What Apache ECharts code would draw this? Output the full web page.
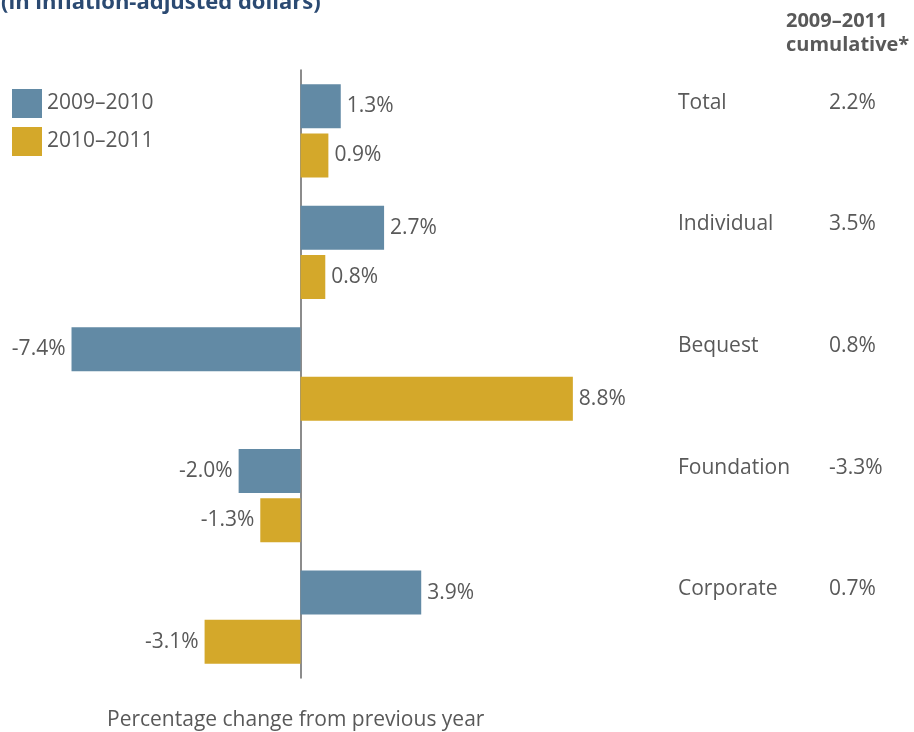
<!DOCTYPE html>
<html>
<head>
<meta charset="utf-8">
<script src="https://cdn.jsdelivr.net/npm/echarts@6/dist/echarts.min.js"></script>
<style>
  html, body { margin: 0; padding: 0; background: #fff; }
  #chart { width: 914px; height: 732px; }
</style>
</head>
<body>
<div id="chart"></div>
<script>
// Giving by source, percentage change (inflation-adjusted)
const categories = ['Total', 'Individual', 'Bequest', 'Foundation', 'Corporate'];
const change2009to2010 = [1.3, 2.7, -7.4, -2.0, 3.9];
const change2010to2011 = [0.9, 0.8, 8.8, -1.3, -3.1];
const cumulative2009to2011 = ['2.2%', '3.5%', '0.8%', '-3.3%', '0.7%'];
const seriesNames = ['2009–2010', '2010–2011'];

const TEXT = '#595959';
const FONT = 'Open Sans';
const FS = 21;

function barData(values) {
  return values.map(v => ({
    value: v,
    label: { position: v >= 0 ? 'right' : 'left' }
  }));
}

const labelStyle = {
  show: true,
  distance: 6,
  fontFamily: FONT,
  fontSize: FS,
  color: TEXT,
  formatter: p => p.value.toFixed(1) + '%'
};

const chart = echarts.init(document.getElementById('chart'));
chart.setOption({
  animation: false,
  backgroundColor: '#fff',
  title: [
    {
      text: '(in inflation-adjusted dollars)',
      left: -4, top: -13,
      textStyle: { fontFamily: FONT, fontSize: 22, fontWeight: 'bold', color: '#2b4a72', lineHeight: 22 }
    },
    {
      text: '2009–2011\ncumulative*',
      left: 781, top: 4,
      textStyle: { fontFamily: FONT, fontSize: 20, fontWeight: 'bold', color: TEXT, lineHeight: 24 }
    },
    {
      text: 'Percentage change from previous year',
      left: 102, top: 705,
      textStyle: { fontFamily: FONT, fontSize: FS, fontWeight: 'normal', color: TEXT }
    }
  ],
  legend: {
    orient: 'vertical',
    left: 7, top: 84,
    itemWidth: 30, itemHeight: 29, itemGap: 9,
    icon: 'rect',
    textStyle: { fontFamily: FONT, fontSize: FS, color: TEXT },
    data: seriesNames
  },
  grid: { left: 22, right: 304, top: 70, bottom: 54, containLabel: false },
  xAxis: {
    type: 'value',
    min: -9, max: 10,
    show: false
  },
  yAxis: [
    {
      type: 'category',
      data: categories,
      inverse: true,
      axisLine: { show: true, onZero: true, lineStyle: { color: '#666', width: 1.5 } },
      axisTick: { show: false },
      axisLabel: { show: false },
      splitLine: { show: false }
    },
    {
      type: 'category',
      data: categories,
      inverse: true,
      position: 'right',
      axisLine: { show: false, onZero: false },
      axisTick: { show: false },
      splitLine: { show: false },
      axisLabel: {
        margin: 68,
        align: 'left',
        formatter: (name, i) => '{n|' + name + '}{c|' + cumulative2009to2011[i] + '}',
        rich: {
          n: { fontFamily: FONT, fontSize: FS, color: TEXT, width: 151, padding: [0, 0, 56, 0] },
          c: { fontFamily: FONT, fontSize: FS, color: TEXT, padding: [0, 0, 56, 0] }
        }
      }
    }
  ],
  series: [
    {
      name: seriesNames[0],
      type: 'bar',
      data: barData(change2009to2010),
      barWidth: 44,
      barGap: '12%',
      itemStyle: { color: '#628aa5' },
      label: labelStyle
    },
    {
      name: seriesNames[1],
      type: 'bar',
      data: barData(change2010to2011),
      barWidth: 44,
      barGap: '12%',
      itemStyle: { color: '#d4a82a' },
      label: labelStyle
    }
  ]
});
</script>
</body>
</html>
